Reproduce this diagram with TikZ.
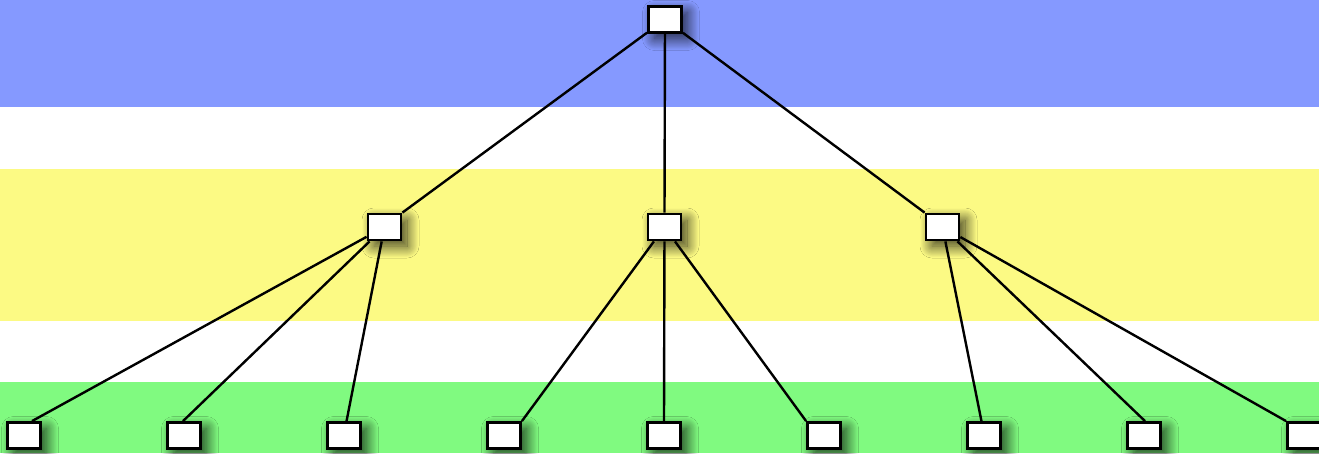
\documentclass[tikz,border=0pt]{standalone}
\usepackage{xcolor}
\usepackage{tikz}
\usetikzlibrary{shadows.blur}
\definecolor{bandblue}{RGB}{133,153,255}
\definecolor{bandyellow}{RGB}{252,250,132}
\definecolor{bandgreen}{RGB}{128,250,128}
\tikzset{
  leaf/.style ={draw, fill=white, line width=2.8pt, minimum width=33pt, minimum height=26pt, inner sep=0pt,
                blur shadow={shadow xshift=6pt, shadow yshift=-6pt, shadow blur radius=12pt,
                             shadow blur steps=40, shadow opacity=80}},
  link/.style ={line width=2.4pt},
}

\begin{document}
\begin{tikzpicture}[x=1pt, y=-1pt]
  \useasboundingbox (0,0) rectangle (1319,453);
  % --- bands ---
  \fill[bandblue]   (0,0)   rectangle (1319,107);
  \fill[bandyellow] (0,169) rectangle (1319,321);
  \fill[bandgreen]  (0,382) rectangle (1319,453);
  % --- nodes ---
  \node[leaf] (root) at (665,19.5) {};
  \foreach \i/\x in {1/384.5,2/664.5,3/942.5} {\node[leaf] (m\i) at (\x,227) {};}
  \foreach \i in {1,...,9} {\node[leaf] (l\i) at (24+160*\i-160,435.5) {};}
  % --- edges (from parent border towards a point on the child's top) ---
  \draw[link] (root)--(m1.north east);
  \draw[link] (root)--(m2.north);
  \draw[link] (root)--(m3.north west);
  \foreach \i/\a in {1/61,2/94,3/80} {\draw[link] (m1)--(l\i.\a);}
  \foreach \i/\a in {4/north east,5/north,6/north west} {\draw[link] (m2)--(l\i.\a);}
  \foreach \i/\a in {7/100,8/86,9/north west} {\draw[link] (m3)--(l\i.\a);}
\end{tikzpicture}
\end{document}
